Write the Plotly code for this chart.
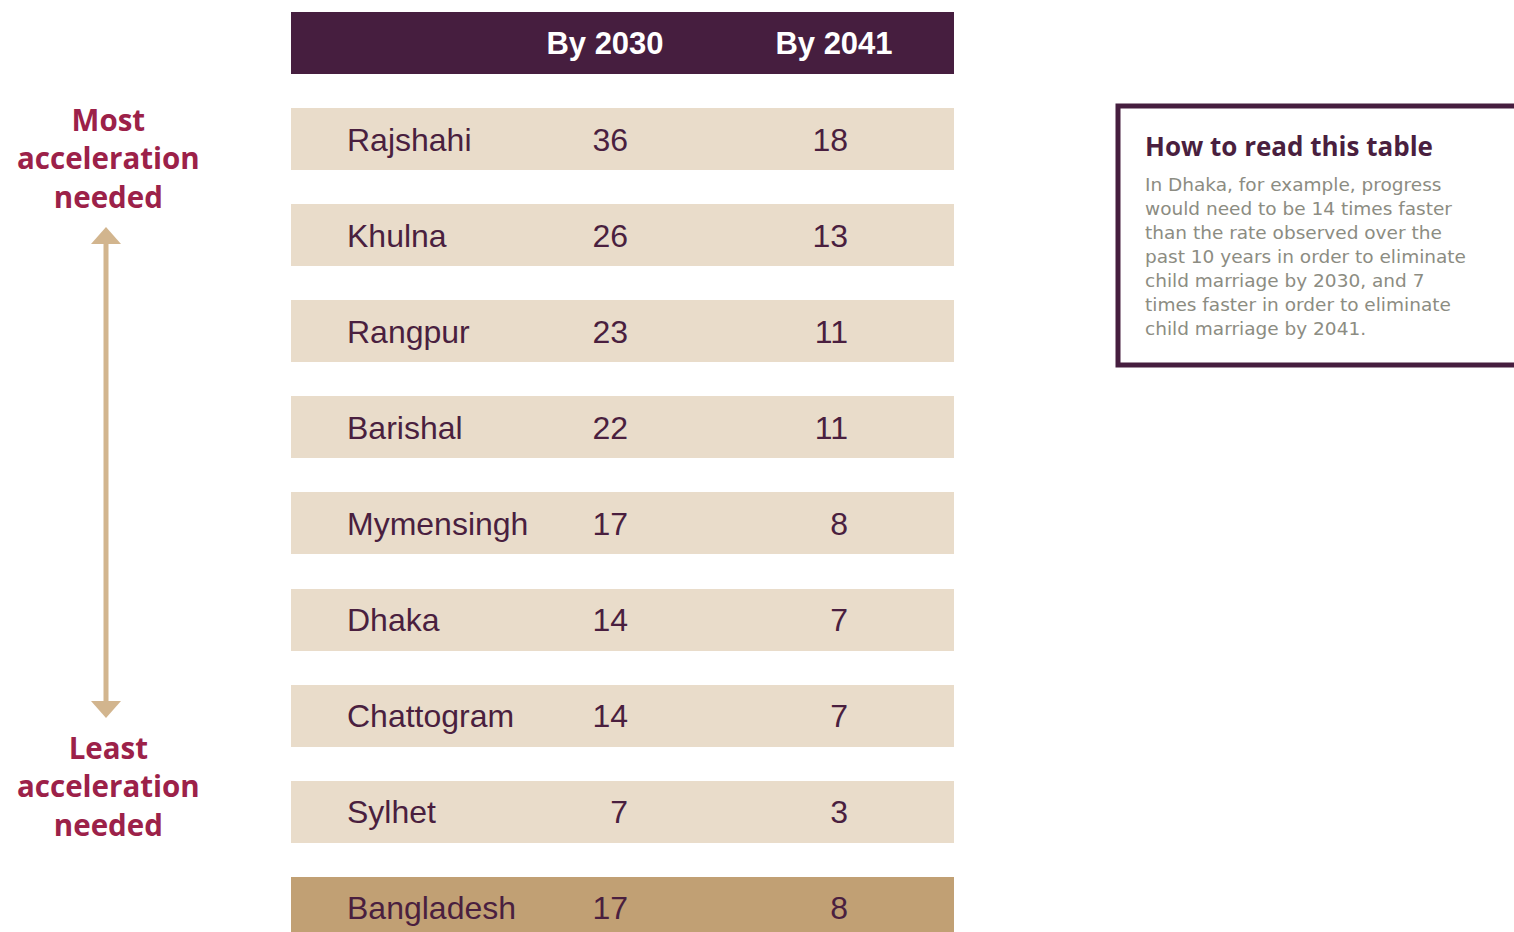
import plotly.graph_objects as go

# ---- data ----
regions = ["Rajshahi", "Khulna", "Rangpur", "Barishal", "Mymensingh",
           "Dhaka", "Chattogram", "Sylhet", "Bangladesh"]
by_2030 = [36, 26, 23, 22, 17, 14, 14, 7, 17]
by_2041 = [18, 13, 11, 11, 8, 7, 7, 3, 8]
column_labels = ["By 2030", "By 2041"]
note_title = "How to read this table"
note_lines = ["In Dhaka, for example, progress",
              "would need to be 14 times faster",
              "than the rate observed over the",
              "past 10 years in order to eliminate",
              "child marriage by 2030, and 7",
              "times faster in order to eliminate",
              "child marriage by 2041."]

# ---- style ----
PLUM = "#461E3F"
ROW_BG = "#E9DCCA"
TOTAL_BG = "#C1A074"
TEXT = "#4A1F3F"
CRIMSON = "#9C2149"
TAN = "#D2B58E"
GREY = "#8C8C82"

W, H = 1514, 932
ROW0_PX, STEP_PX = 139.0, 96.1   # pixel centre of first row, row pitch


def ypx(p):
    """pixel row -> row units on the y axis"""
    return (p - ROW0_PX) / STEP_PX


n = len(regions)
rows = list(range(n))
bar_h = 62 / STEP_PX
txt_dy = 3.5 / STEP_PX            # optical correction for text baseline
x_left, x_right = 291, 954
name_x, col1_x, col2_x = 347, 628, 848
head1_x, head2_x = 605, 834

fig = go.Figure()

# row backgrounds
fig.add_trace(go.Bar(
    orientation="h", y=rows, x=[x_right - x_left] * n, base=x_left,
    width=bar_h,
    marker=dict(color=[TOTAL_BG if r == "Bangladesh" else ROW_BG for r in regions],
                line=dict(width=0)),
    hoverinfo="skip", showlegend=False,
))

row_font = dict(family="Liberation Sans, Arial, sans-serif", size=32, color=TEXT)
ty = [r + txt_dy for r in rows]

fig.add_trace(go.Scatter(x=[name_x] * n, y=ty, mode="text", text=regions,
                         textposition="middle right", textfont=row_font,
                         hoverinfo="skip", showlegend=False))
fig.add_trace(go.Scatter(x=[col1_x] * n, y=ty, mode="text",
                         text=[str(v) for v in by_2030],
                         textposition="middle left", textfont=row_font,
                         hoverinfo="skip", showlegend=False))
fig.add_trace(go.Scatter(x=[col2_x] * n, y=ty, mode="text",
                         text=[str(v) for v in by_2041],
                         textposition="middle left", textfont=row_font,
                         hoverinfo="skip", showlegend=False))

# header bar
fig.add_shape(type="rect", xref="x", yref="y", x0=x_left, x1=x_right,
              y0=-1 - bar_h / 2, y1=-1 + bar_h / 2,
              fillcolor=PLUM, line=dict(width=0), layer="below")
fig.add_trace(go.Scatter(x=[head1_x, head2_x], y=[-1 + txt_dy, -1 + txt_dy], mode="text",
                         text=column_labels, textposition="middle center",
                         textfont=dict(family="Liberation Sans, Arial, sans-serif",
                                       size=31, color="white", weight="bold"),
                         hoverinfo="skip", showlegend=False))

# arrow
ax = 106
fig.add_shape(type="line", xref="x", yref="y", x0=ax, x1=ax,
              y0=ypx(242), y1=ypx(704), line=dict(color=TAN, width=5))
fig.add_shape(type="path", xref="x", yref="y",
              path=f"M {ax-15},{ypx(244)} L {ax},{ypx(227)} L {ax+15},{ypx(244)} Z",
              fillcolor=TAN, line=dict(width=0))
fig.add_shape(type="path", xref="x", yref="y",
              path=f"M {ax-15},{ypx(701)} L {ax},{ypx(718)} L {ax+15},{ypx(701)} Z",
              fillcolor=TAN, line=dict(width=0))

lab_font = dict(family="Open Sans, sans-serif", size=29.5, color=CRIMSON, weight="bold")
fig.add_annotation(x=108, y=ypx(158), xref="x", yref="y",
                   text="Most<br>acceleration<br>needed", showarrow=False,
                   align="center", xanchor="center", yanchor="middle", font=lab_font)
fig.add_annotation(x=108, y=ypx(786), xref="x", yref="y",
                   text="Least<br>acceleration<br>needed", showarrow=False,
                   align="center", xanchor="center", yanchor="middle", font=lab_font)

# info box
fig.add_shape(type="rect", xref="x", yref="y", x0=1118, x1=1530,
              y0=ypx(106), y1=ypx(365), line=dict(color=PLUM, width=5),
              fillcolor="rgba(0,0,0,0)")
fig.add_annotation(x=1143, y=ypx(146), xref="x", yref="y",
                   text=note_title, showarrow=False,
                   xanchor="left", yanchor="middle",
                   font=dict(family="Open Sans, sans-serif", size=26, color=TEXT,
                             weight="bold"))
fig.add_annotation(x=1143, y=ypx(256), xref="x", yref="y",
                   text="<br>".join(note_lines),
                   showarrow=False, xanchor="left", yanchor="middle", align="left",
                   font=dict(family="DejaVu Sans, sans-serif", size=18.5, color=GREY))

fig.update_layout(
    width=W, height=H, margin=dict(l=0, r=0, t=0, b=0),
    paper_bgcolor="white", plot_bgcolor="white", showlegend=False,
    xaxis=dict(range=[0, W], visible=False, fixedrange=True),
    yaxis=dict(range=[ypx(H), ypx(0)], visible=False, fixedrange=True),
    bargap=0,
)

fig.write_html("out.html", include_plotlyjs=True,
               config={"displayModeBar": False},
               post_script="document.body.style.margin='0';document.body.style.overflow='hidden';")
